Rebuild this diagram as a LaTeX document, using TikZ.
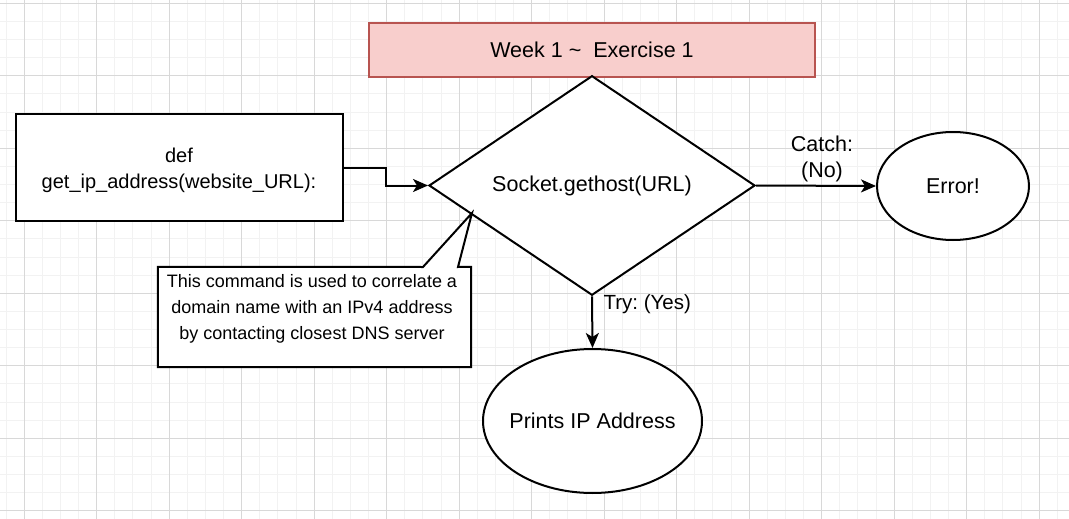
\documentclass[tikz,border=0pt]{standalone}
\usepackage{fontspec}
\setmainfont{Liberation Sans}
\usetikzlibrary{shapes.geometric,arrows.meta}
\definecolor{gridminor}{HTML}{F2F2F2}
\definecolor{gridmajor}{HTML}{D8D8D8}
\definecolor{titlefill}{HTML}{F8CECC}
\definecolor{titledraw}{HTML}{B85450}
\tikzset{
  big/.style={font=\frenchspacing\fontsize{21.5}{26}\selectfont},
  mid/.style={font=\frenchspacing\fontsize{20}{26}\selectfont},
  small/.style={font=\frenchspacing\fontsize{18}{26}\selectfont},
  shapebox/.style={draw=black, line width=2pt, fill=white, inner sep=0pt, align=center},
  conn/.style={line width=2pt, -{Stealth[length=15pt,width=13pt,inset=4pt]}},
  plain/.style={line width=2pt},
}
\begin{document}
\begin{tikzpicture}[x=1pt,y=-1pt]
\useasboundingbox (0,0) rectangle (1069,519);
\fill[white] (0,0) rectangle (1069,519);
% grid
\foreach \i in {-2,...,58} {
  \pgfmathsetmacro\xx{24.2+18.125*\i}
  \draw[gridminor, line width=1pt] (\xx,0) -- (\xx,519);
}
\foreach \i in {-1,...,29} {
  \pgfmathsetmacro\yy{3.3+18.125*\i}
  \draw[gridminor, line width=1pt] (0,\yy) -- (1069,\yy);
}
\foreach \i in {0,...,14} {
  \pgfmathsetmacro\xx{24.2+72.5*\i}
  \draw[gridmajor, line width=1pt] (\xx,0) -- (\xx,519);
}
\foreach \i in {0,...,7} {
  \pgfmathsetmacro\yy{3.3+72.5*\i}
  \draw[gridmajor, line width=1pt] (0,\yy) -- (1069,\yy);
}

% nodes
\node[draw=titledraw, fill=titlefill, line width=1.5pt, minimum width=446pt, minimum height=54pt, big] (title) at (592,50) {Week 1 \textasciitilde\ \ Exercise 1};
\node[shapebox, rectangle, minimum width=327pt, minimum height=107pt] (def) at (179.5,167.5) {};
\node[mid, align=center] (deftext) at (179,170.5) {def\\get\_ip\_address(website\_URL):};
\node[shapebox, diamond, minimum width=326pt, minimum height=179pt, big] (dia) at (592,185.5) {Socket.gethost(URL)};
\node[shapebox, ellipse, minimum width=152pt, minimum height=108pt, big] (err) at (953,186) {\makebox[0pt]{Error!}};
\node[shapebox, ellipse, minimum width=219pt, minimum height=144pt, big] (ip) at (592.5,421) {\makebox[0pt]{Prints IP Address}};

% callout
\node[rectangle, minimum width=313pt, minimum height=100pt, inner sep=0pt] (note) at (314.5,317) {};
\coordinate (tip) at (472,213);
\coordinate (pa) at (423,267);
\coordinate (pb) at (458,267);
\draw[plain, fill=white, line join=miter] (note.north west) -- (pa) -- (tip) -- (pb) -- (note.north east) -- (note.south east) -- (note.south west) -- cycle;
\node[small, align=center] (notetext) at (312,308.5) {This command is used to correlate a\\domain name with an IPv4 address\\by contacting closest DNS server};

% connectors
\draw[conn] (def.east) -- ++(42,0) |- (dia.west);
\draw[conn] (dia.east) -- (err.west);
\draw[conn] (dia.south) -- (ip.north);

% labels
\node[big, align=center] (catch) at (822,159) {Catch:\\(No)};
\node[font=\frenchspacing\fontsize{20.5}{26}\selectfont, anchor=west] (try) at (600,304) {Try: (Yes)};
\end{tikzpicture}
\end{document}
